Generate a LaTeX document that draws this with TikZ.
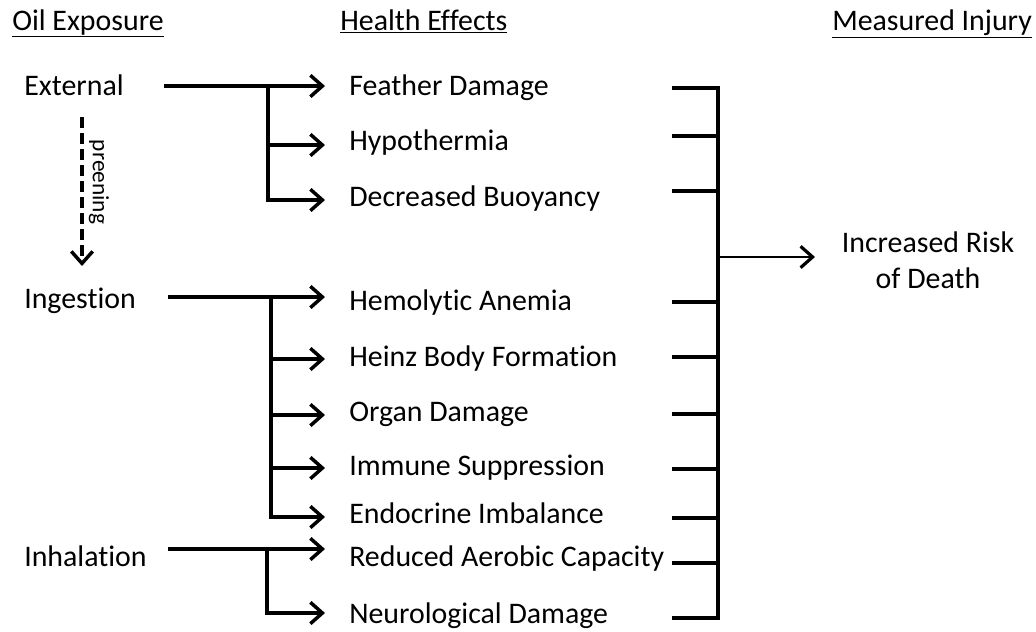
\documentclass[tikz,border=0pt]{standalone}
\usepackage{fontspec}
\setmainfont{Carlito}[Ligatures=NoCommon]
\usetikzlibrary{arrows.meta}
\begin{document}
\begin{tikzpicture}[x=0.75pt,y=-0.75pt,
  lbl/.style={anchor=base west,inner sep=0pt,font=\fontsize{22.4}{26}\selectfont},
  ln/.style={line width=3pt},
  barb/.style={-{Straight Barb[length=9pt,width=16pt,line width=2.6pt]}},
  arr/.style={ln,barb},
]
\useasboundingbox (0,0) rectangle (1036,632);
% headers
\node[lbl] (h1) at (12,30) {\underline{Oil Exposure}};
\node[lbl] (h2) at (340,30) {\underline{Health Effects}};
\node[lbl] (h3) at (832,30) {\underline{Measured Injury}};
% exposures
\node[lbl] (ext) at (24,95) {External};
\node[lbl] (ing) at (24,308) {Ingestion};
\node[lbl] (inh) at (24,566) {Inhalation};
% effects
\node[lbl] (e1) at (349,95) {Feather Damage};
\node[lbl] (e2) at (349,150) {Hypothermia};
\node[lbl] (e3) at (349,206) {Decreased Buoyancy};
\node[lbl] (e4) at (349,310) {Hemolytic Anemia};
\node[lbl] (e5) at (349,366) {Heinz Body Formation};
\node[lbl] (e6) at (349,421) {Organ Damage};
\node[lbl] (e7) at (349,475) {Immune Suppression};
\node[lbl] (e8) at (349,523) {Endocrine Imbalance};
\node[lbl] (e9) at (349,566) {Reduced Aerobic Capacity};
\node[lbl] (e10) at (349,623) {Neurological Damage};
% injury
\node[anchor=base,inner sep=0pt,align=center,font=\fontsize{22.4}{26.3}\selectfont] (inj) at (928,288) {Increased Risk\\of Death};
% external branch
\coordinate (xs) at (164,86);
\coordinate (xj) at (268,86);
\draw[arr] (xs) -- (325,86);
\draw[arr] (xj) |- (325,200);
\draw[arr] (268,145) -- (325,145);
% ingestion branch
\coordinate (gs) at (168,297);
\coordinate (gj) at (271,297);
\draw[arr] (gs) -- (325,297);
\draw[arr] (gj) |- (325,517);
\draw[arr] (271,359) -- (325,359);
\draw[arr] (271,415) -- (325,415);
\draw[arr] (271,468) -- (325,468);
% inhalation branch
\coordinate (ns) at (168,549);
\coordinate (nj) at (267,549);
\draw[arr] (ns) -- (325,549);
\draw[arr] (nj) |- (325,613);
% preening
\draw[ln,dash pattern=on 8pt off 4pt,barb] (82,117) -- (82,266);
\node[rotate=-90,inner sep=0pt,font=\fontsize{17.5}{20}\selectfont] (pr) at (99,182) {preening};
% measured injury bracket
\draw[ln] (672,88) -- (718,88) -- (718,618) -- (672,618);
\foreach \yy in {136,191,302,357,414,469,518,563} \draw[ln] (672,\yy) -- (718,\yy);
\coordinate (bj) at (718,257);
\draw[line width=2.2pt,-{Straight Barb[length=9pt,width=16pt,line width=2.4pt]}] (bj) -- (815,257);
\end{tikzpicture}
\end{document}
